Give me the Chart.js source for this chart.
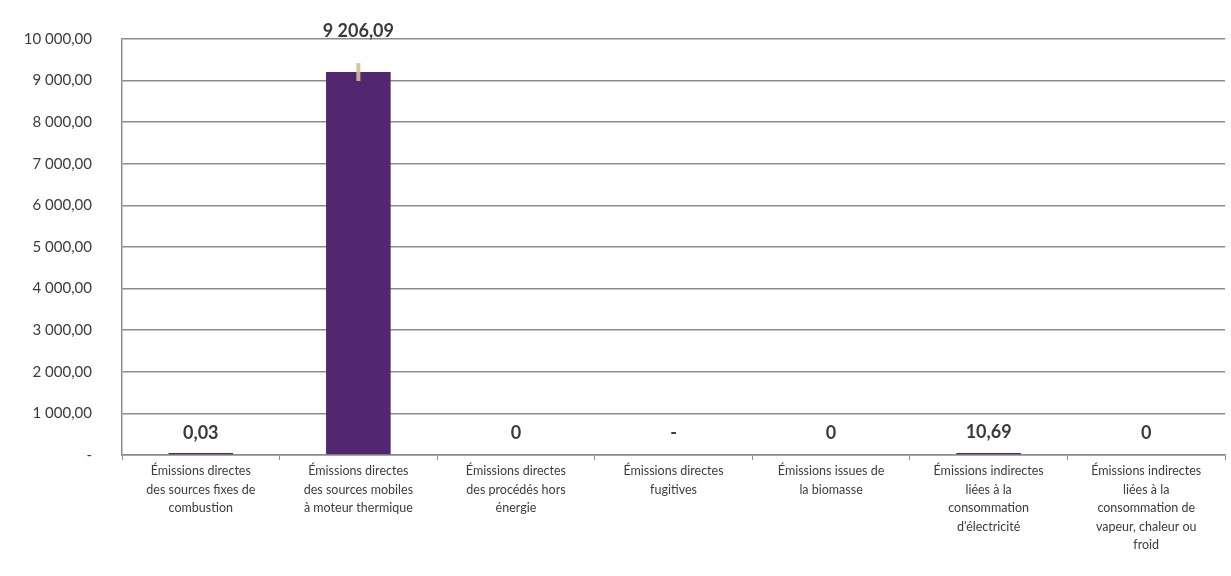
<!DOCTYPE html>
<html lang="fr">
<head>
<meta charset="utf-8">
<title>Émissions par catégorie</title>
<script src="https://cdn.jsdelivr.net/npm/chart.js@4/dist/chart.umd.min.js"></script>
<style>
  html, body { margin: 0; padding: 0; background: #fff; }
  #wrap { width: 1231px; height: 576px; }
</style>
</head>
<body>
<div id="wrap"><canvas id="emissionsChart" width="1231" height="576"></canvas></div>
<script>
/* ── Données ── */
const categories = [
  ['Émissions directes', 'des sources fixes de', 'combustion'],
  ['Émissions directes', 'des sources mobiles', 'à moteur thermique'],
  ['Émissions directes', 'des procédés hors', 'énergie'],
  ['Émissions directes', 'fugitives'],
  ['Émissions issues de', 'la biomasse'],
  ['Émissions indirectes', 'liées à la', 'consommation', "d'électricité"],
  ['Émissions indirectes', 'liées à la', 'consommation de', 'vapeur, chaleur ou', 'froid']
];
const emissions = [0.03, 9206.09, 0, null, 0, 10.69, 0];   // null = « - »
const errorMargins = [0, 215, 0, 0, 0, 0, 0];
const yTicks = [0, 1000, 2000, 3000, 4000, 5000, 6000, 7000, 8000, 9000, 10000];

/* ── Format français : 9 206,09 ── */
function frNumber(v, decimals) {
  const parts = v.toFixed(decimals).split('.');
  const int = parts[0].replace(/\B(?=(\d{3})+(?!\d))/g, ' ');
  return parts[1] ? int + ',' + parts[1] : int;
}

function barLabel(v) {
  if (v === null) return '-';
  if (v === 0) return '0';
  return frNumber(v, 2);
}

/* ── Barres d'erreur + étiquettes de valeur ── */
const valuePlugin = {
  id: 'valueLabels',
  afterDatasetsDraw(chart) {
    const ctx = chart.ctx;
    const y = chart.scales.y;
    const meta = chart.getDatasetMeta(0);
    ctx.save();
    meta.data.forEach((bar, i) => {
      const v = emissions[i];
      let top = y.getPixelForValue(v || 0);
      const err = errorMargins[i];
      if (v && err) {
        const hi = y.getPixelForValue(v + err);
        const lo = y.getPixelForValue(v - err);
        ctx.strokeStyle = 'rgba(214,190,150,0.9)';
        ctx.lineWidth = 4;
        ctx.beginPath();
        ctx.moveTo(bar.x, hi);
        ctx.lineTo(bar.x, lo);
        ctx.stroke();
        top = hi;
      }
      ctx.fillStyle = '#3a3a3a';
      ctx.font = 'bold 18px Lato, "Noto Sans", sans-serif';
      ctx.textAlign = 'center';
      ctx.textBaseline = 'middle';
      const off = err ? 32 : 22;
      ctx.fillText(barLabel(v), bar.x, top - off);
    });
    ctx.restore();
  }
};

document.addEventListener('DOMContentLoaded', function () {
  new Chart(document.getElementById('emissionsChart'), {
    type: 'bar',
    data: {
      labels: categories,
      datasets: [{
        data: emissions.map(v => (v === 0 ? null : v)),
        backgroundColor: '#52276f',
        categoryPercentage: 1,
        barPercentage: 0.41,
        minBarLength: 2
      }]
    },
    options: {
      responsive: false,
      animation: false,
      layout: { padding: { top: 36, right: 6, left: 0, bottom: 0 } },
      plugins: {
        legend: { display: false },
        tooltip: { enabled: false }
      },
      scales: {
        y: {
          min: 0,
          max: 10000,
          afterBuildTicks: s => { s.ticks = yTicks.map(v => ({ value: v })); },
          afterFit: s => { s.width = 122; },
          border: { color: '#8c8c8c', width: 1.5 },
          grid: { color: '#8c8c8c', lineWidth: 1.5, drawTicks: false },
          ticks: {
            padding: 30,
            color: '#3c3c3c',
            font: { family: 'Lato, "Noto Sans", sans-serif', size: 15 },
            callback: v => (v === 0 ? '-' : frNumber(v, 2))
          }
        },
        x: {
          afterFit: s => { s.height = 121; },
          border: { color: '#8c8c8c', width: 1.5 },
          grid: { display: true, drawOnChartArea: false, color: '#8c8c8c', tickLength: 5, offset: true },
          ticks: {
            padding: 2,
            maxRotation: 0,
            autoSkip: false,
            color: '#3c3c3c',
            font: { family: 'Lato, "Noto Sans", sans-serif', size: 12.5, lineHeight: 1.48 }
          }
        }
      }
    },
    plugins: [valuePlugin]
  });
});
</script>
</body>
</html>
